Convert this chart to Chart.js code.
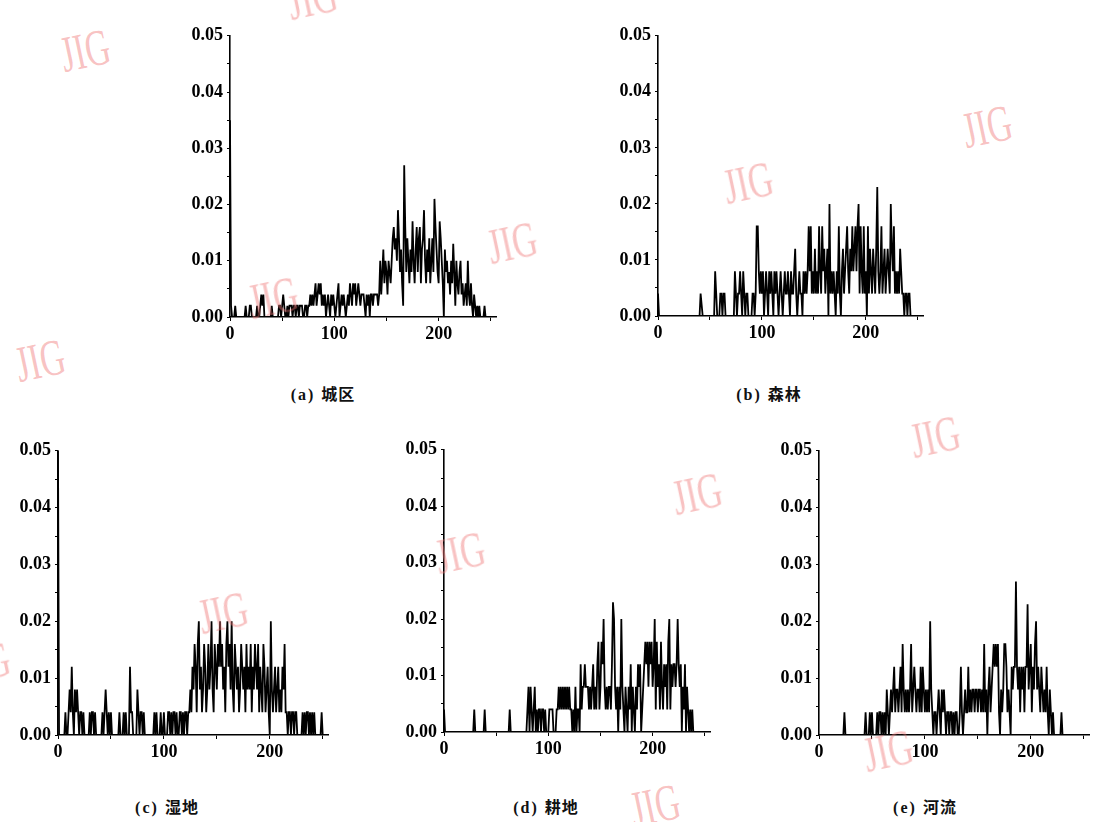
<!DOCTYPE html>
<html lang="zh">
<head>
<meta charset="UTF-8">
<title>灰度直方图</title>
<script src="https://cdn.jsdelivr.net/npm/chart.js"></script>
<style>
  body { margin: 0; background: #fff; }
  .pagina { position: relative; width: 1099px; height: 822px; overflow: hidden; background: #fff; }
  .grafico { position: absolute; }
  .legenda {
    position: absolute; font-family: "Liberation Serif", "Noto Sans CJK SC", serif;
    font-size: 16px; font-weight: bold; color: #111; letter-spacing: 2px;
    transform: translate(-50%, -50%); white-space: nowrap;
  }
  .legenda .cjk { font-family: "Noto Sans CJK SC", sans-serif; letter-spacing: 1px; }
  .marca {
    position: absolute; font-family: "Liberation Serif", serif; font-size: 38px;
    color: rgba(240, 120, 120, 0.45); pointer-events: none; white-space: nowrap;
    transform: translate(-50%, -50%) rotate(-12deg) scale(0.9, 1.35);
  }
</style>
</head>
<body>
<div class="pagina" id="pagina">
  <div class="grafico" style="left:180px; top:21px;"><canvas id="g_a" width="324" height="326"></canvas></div>
  <div class="grafico" style="left:608px; top:21px;"><canvas id="g_b" width="323" height="325"></canvas></div>
  <div class="grafico" style="left:8px; top:436px;"><canvas id="g_c" width="328" height="329"></canvas></div>
  <div class="grafico" style="left:394px; top:435px;"><canvas id="g_d" width="324" height="327"></canvas></div>
  <div class="grafico" style="left:769px; top:436px;"><canvas id="g_e" width="328" height="329"></canvas></div>

  <div class="legenda" style="left:323px; top:393px;">(a) <span class="cjk">城区</span></div>
  <div class="legenda" style="left:769px; top:393px;">(b) <span class="cjk">森林</span></div>
  <div class="legenda" style="left:167px; top:806px;">(c) <span class="cjk">湿地</span></div>
  <div class="legenda" style="left:546px; top:806px;">(d) <span class="cjk">耕地</span></div>
  <div class="legenda" style="left:925px; top:806px;">(e) <span class="cjk">河流</span></div>
</div>

<script>
// niveis de cinza 0..255 (eixo x)
const grayLevels = Array.from({ length: 256 }, (_, i) => i);
const xTicks = [0, 100, 200];
const yTicks = [0.00, 0.01, 0.02, 0.03, 0.04, 0.05];

// (a) 城区
const urbanHist = [
  0.035, 0.002, 0, 0, 0, 0.002, 0, 0, 0, 0, 0, 0, 0, 0, 0, 0.002,
  0, 0, 0, 0.002, 0.002, 0, 0, 0, 0, 0, 0.002, 0, 0, 0.002, 0.004, 0.002,
  0.004, 0, 0, 0, 0, 0, 0, 0, 0.002, 0, 0, 0, 0, 0, 0, 0.002,
  0.002, 0, 0.002, 0.004, 0.002, 0, 0, 0.002, 0, 0.002, 0.002, 0.002, 0, 0.002, 0.002, 0,
  0.002, 0.002, 0, 0.002, 0.002, 0.002, 0, 0, 0.002, 0.002, 0, 0.002, 0.002, 0.004, 0.002, 0.004,
  0.002, 0.004, 0.006, 0.002, 0.004, 0.006, 0.004, 0.006, 0.002, 0.004, 0.002, 0.004, 0, 0.002, 0.004, 0.002,
  0, 0.004, 0.002, 0.004, 0.002, 0, 0.002, 0.004, 0.006, 0, 0.002, 0.004, 0.002, 0.004, 0.002, 0,
  0.002, 0.004, 0.002, 0.006, 0.004, 0.002, 0.006, 0.004, 0.006, 0.002, 0.004, 0.006, 0.004, 0.002, 0.004, 0.004,
  0.004, 0.002, 0, 0.004, 0.002, 0.004, 0, 0.004, 0.004, 0.002, 0.004, 0.004, 0.004, 0.004, 0.002, 0.004,
  0.010, 0.004, 0.008, 0.012, 0.006, 0.010, 0.008, 0.004, 0.010, 0.008, 0.006, 0.010, 0.014, 0.016, 0.012, 0.014,
  0.010, 0.019, 0.014, 0.008, 0.012, 0.006, 0.002, 0.027, 0.016, 0.008, 0.014, 0.010, 0.006, 0.012, 0.008, 0.017,
  0.010, 0.006, 0.012, 0.016, 0.008, 0.014, 0.016, 0.006, 0.012, 0.014, 0.019, 0.010, 0.006, 0.012, 0.008, 0.014,
  0.006, 0.010, 0.014, 0.008, 0.021, 0.016, 0.012, 0.008, 0.006, 0.017, 0.014, 0.010, 0.006, 0, 0.012, 0.008,
  0.010, 0.006, 0.008, 0.004, 0.010, 0.006, 0.013, 0.008, 0.002, 0.010, 0.006, 0.004, 0.008, 0.010, 0.004, 0.006,
  0.002, 0.004, 0.006, 0.002, 0.010, 0.004, 0.002, 0.006, 0.002, 0, 0.004, 0.002, 0, 0.002, 0, 0.002,
  0, 0, 0, 0, 0.002, 0, 0, 0, 0, 0, 0, 0, 0, 0, 0, 0
];

// (b) 森林
const forestHist = [
  0.004, 0, 0, 0, 0, 0, 0, 0, 0, 0, 0, 0, 0, 0, 0, 0,
  0, 0, 0, 0, 0, 0, 0, 0, 0, 0, 0, 0, 0, 0, 0, 0,
  0, 0, 0, 0, 0, 0, 0, 0, 0, 0.004, 0.002, 0, 0, 0, 0, 0,
  0, 0, 0, 0, 0, 0, 0, 0.008, 0.004, 0, 0, 0, 0.004, 0.004, 0, 0.004,
  0.004, 0, 0, 0, 0, 0, 0, 0, 0, 0, 0.008, 0.004, 0, 0.004, 0.004, 0.008,
  0.004, 0, 0.008, 0.004, 0, 0.004, 0.004, 0, 0, 0, 0, 0.004, 0.004, 0, 0.004, 0.016,
  0.016, 0.008, 0.004, 0.008, 0.004, 0.008, 0, 0.004, 0.008, 0.004, 0, 0.008, 0.004, 0.008, 0.004, 0,
  0.008, 0.004, 0.008, 0.004, 0, 0.004, 0.008, 0.004, 0, 0.004, 0.008, 0.004, 0.004, 0.008, 0.004, 0,
  0.008, 0.004, 0.004, 0.008, 0.012, 0.004, 0, 0.004, 0.008, 0.004, 0.004, 0, 0.008, 0.004, 0.008, 0.004,
  0.008, 0.016, 0.008, 0.016, 0.004, 0.008, 0.004, 0.012, 0.004, 0.008, 0.004, 0.016, 0.008, 0.004, 0.016, 0.008,
  0.012, 0.004, 0.008, 0.012, 0, 0.020, 0.004, 0.008, 0.004, 0.008, 0.004, 0, 0.008, 0.004, 0.016, 0.004,
  0, 0.008, 0.012, 0.004, 0.008, 0.012, 0.016, 0.008, 0.004, 0.012, 0.008, 0.016, 0.008, 0.012, 0.016, 0.008,
  0.016, 0.020, 0.004, 0.016, 0.008, 0.004, 0.016, 0.004, 0.008, 0, 0.016, 0.004, 0.012, 0.008, 0.004, 0.012,
  0.008, 0.004, 0.012, 0.023, 0.008, 0.004, 0.008, 0.016, 0.004, 0.008, 0.012, 0.004, 0.008, 0.012, 0.008, 0.004,
  0.020, 0.012, 0.008, 0.016, 0.004, 0.008, 0.004, 0.008, 0.004, 0.012, 0.008, 0.004, 0.004, 0, 0.004, 0.004,
  0, 0.004, 0.004, 0, 0, 0, 0, 0, 0, 0, 0, 0, 0, 0, 0, 0
];

// (c) 湿地
const wetlandHist = [
  0.05, 0, 0, 0, 0, 0, 0, 0.004, 0, 0, 0.004, 0.008, 0.004, 0.012, 0.004, 0,
  0.008, 0.004, 0.008, 0.004, 0, 0.004, 0.004, 0, 0.004, 0, 0, 0, 0, 0, 0.004, 0,
  0.004, 0.004, 0, 0.004, 0, 0, 0, 0, 0, 0, 0.004, 0, 0.004, 0.008, 0.004, 0,
  0.004, 0, 0.004, 0, 0, 0, 0, 0, 0, 0, 0.004, 0, 0, 0, 0.004, 0,
  0.004, 0, 0, 0, 0.012, 0.004, 0.004, 0, 0, 0, 0, 0.008, 0.004, 0, 0.004, 0.004,
  0, 0.004, 0, 0, 0, 0, 0, 0, 0, 0, 0, 0.004, 0, 0.004, 0, 0,
  0, 0.004, 0, 0, 0.004, 0, 0, 0, 0.004, 0.004, 0, 0.004, 0, 0.004, 0.004, 0,
  0.004, 0, 0, 0.004, 0.004, 0, 0.004, 0, 0.004, 0.004, 0, 0.004, 0.004, 0.008, 0.004, 0.012,
  0.008, 0.016, 0.012, 0.004, 0.016, 0.020, 0.008, 0.012, 0.004, 0.008, 0.016, 0.012, 0.004, 0.008, 0.016, 0.008,
  0.012, 0.020, 0.008, 0.004, 0.016, 0.012, 0.008, 0.016, 0.012, 0.020, 0.012, 0.016, 0.008, 0.012, 0.004, 0.016,
  0.020, 0.012, 0.016, 0.008, 0.020, 0.008, 0.004, 0.016, 0.012, 0.008, 0.012, 0.004, 0.008, 0.016, 0.012, 0.008,
  0.012, 0.004, 0.016, 0.008, 0.012, 0.008, 0.016, 0.004, 0.012, 0.008, 0.016, 0.012, 0.008, 0.016, 0.004, 0.012,
  0.008, 0.004, 0.016, 0.012, 0.004, 0.008, 0.012, 0.004, 0, 0.020, 0.008, 0.004, 0.008, 0.012, 0.004, 0.008,
  0.012, 0.004, 0.008, 0.004, 0.012, 0.008, 0.016, 0.004, 0.004, 0, 0.004, 0.004, 0, 0.004, 0.004, 0,
  0.004, 0.004, 0, 0, 0, 0, 0, 0.004, 0, 0.004, 0, 0.004, 0.004, 0, 0.004, 0,
  0.004, 0, 0.004, 0, 0, 0, 0, 0, 0, 0.004, 0, 0, 0, 0, 0, 0
];

// (d) 耕地
const farmlandHist = [
  0.004, 0, 0, 0, 0, 0, 0, 0, 0, 0, 0, 0, 0, 0, 0, 0,
  0, 0, 0, 0, 0, 0, 0, 0, 0, 0, 0, 0, 0, 0.004, 0, 0,
  0, 0, 0, 0, 0, 0, 0, 0.004, 0, 0, 0, 0, 0, 0, 0, 0,
  0, 0, 0, 0, 0, 0, 0, 0, 0, 0, 0, 0, 0, 0, 0, 0.004,
  0, 0, 0, 0, 0, 0, 0, 0, 0, 0, 0, 0, 0, 0, 0, 0,
  0.004, 0.008, 0, 0.008, 0.004, 0, 0.004, 0.008, 0, 0.004, 0, 0.004, 0.004, 0, 0.004, 0.004,
  0, 0.004, 0, 0, 0, 0.004, 0.004, 0.004, 0.004, 0, 0, 0, 0.004, 0.004, 0.008, 0.004,
  0.008, 0.004, 0.008, 0.004, 0.008, 0.004, 0.008, 0.004, 0.008, 0.004, 0.004, 0, 0.004, 0, 0.008, 0,
  0.004, 0.004, 0, 0.012, 0.004, 0.008, 0.008, 0.012, 0.008, 0.008, 0.008, 0.004, 0.008, 0.004, 0.008, 0.012,
  0.004, 0.008, 0.004, 0.012, 0.016, 0.004, 0.008, 0.016, 0.012, 0.020, 0.008, 0.004, 0.008, 0.004, 0.008, 0.008,
  0.004, 0.012, 0.023, 0.020, 0.008, 0.004, 0.008, 0, 0.008, 0.004, 0.020, 0.008, 0.004, 0, 0.008, 0.004,
  0, 0.008, 0.004, 0.012, 0, 0.008, 0.004, 0, 0.008, 0.004, 0.012, 0.008, 0.012, 0, 0.004, 0.008,
  0.012, 0.016, 0.012, 0.016, 0.008, 0.016, 0.012, 0.016, 0.008, 0.012, 0.020, 0.004, 0.016, 0.008, 0.012, 0.004,
  0.016, 0.008, 0.004, 0.012, 0.008, 0.012, 0.004, 0.016, 0.020, 0.004, 0.012, 0.008, 0.012, 0.012, 0.008, 0.012,
  0.020, 0.012, 0.008, 0.012, 0, 0.008, 0.004, 0.012, 0, 0.008, 0.004, 0, 0.004, 0, 0.004, 0,
  0, 0, 0, 0, 0, 0, 0, 0, 0, 0, 0, 0, 0, 0, 0, 0
];

// (e) 河流
const riverHist = [
  0, 0, 0, 0, 0, 0, 0, 0, 0, 0, 0, 0, 0, 0, 0, 0,
  0, 0, 0, 0, 0, 0, 0, 0, 0.004, 0, 0, 0, 0, 0, 0, 0,
  0, 0, 0, 0, 0, 0, 0, 0, 0, 0, 0, 0, 0.004, 0, 0, 0,
  0.004, 0, 0.004, 0, 0, 0, 0, 0.004, 0, 0.004, 0.004, 0, 0.004, 0, 0.004, 0,
  0.008, 0.004, 0, 0.004, 0.008, 0.004, 0.008, 0.012, 0.004, 0.008, 0.008, 0.004, 0.008, 0.012, 0.004, 0.016,
  0.008, 0.004, 0.008, 0.004, 0.008, 0.004, 0.008, 0.016, 0.004, 0.008, 0.012, 0.008, 0.004, 0.008, 0.008, 0.004,
  0.012, 0.004, 0.012, 0.008, 0.004, 0.008, 0.004, 0.008, 0.004, 0.020, 0.008, 0.004, 0, 0.004, 0.004, 0,
  0.004, 0.008, 0.004, 0, 0.008, 0.004, 0.008, 0.004, 0, 0.004, 0.004, 0, 0.004, 0.004, 0, 0.004,
  0, 0.004, 0.004, 0, 0, 0.004, 0.012, 0.004, 0, 0.004, 0.008, 0.004, 0.004, 0.012, 0.004, 0.008,
  0.004, 0.008, 0.008, 0.004, 0.008, 0.008, 0.004, 0.008, 0.008, 0.004, 0.008, 0.004, 0.016, 0.004, 0.008, 0,
  0.008, 0.012, 0.004, 0.008, 0.012, 0.016, 0.012, 0.016, 0.012, 0.016, 0.004, 0, 0.008, 0.004, 0.008, 0.016,
  0.016, 0.012, 0.004, 0.008, 0.004, 0, 0.012, 0.008, 0.012, 0.012, 0.027, 0.012, 0.008, 0.012, 0.004, 0.012,
  0.008, 0.012, 0.004, 0.012, 0.012, 0.023, 0.008, 0.012, 0.016, 0.004, 0.012, 0.008, 0.016, 0.020, 0.008, 0.012,
  0.008, 0.004, 0.012, 0.008, 0.004, 0.008, 0.004, 0.012, 0.004, 0, 0.008, 0.004, 0, 0.004, 0, 0,
  0, 0, 0, 0, 0, 0.004, 0, 0, 0, 0, 0, 0, 0, 0, 0, 0,
  0, 0, 0, 0, 0, 0, 0, 0, 0, 0, 0, 0, 0, 0, 0, 0
];

// marcas d'agua "JIG" (centro x, y)
const marcasX = [85, 312, 512, 748, 987, 40, 273, 223, 460, 697, 935, -15, 655, 888];
const marcasY = [50, -2, 242, 182, 126, 360, 297, 612, 552, 493, 436, 662, 805, 750];

Chart.defaults.font.family = "'Liberation Serif', 'Times New Roman', serif";
Chart.defaults.font.size = 18;
Chart.defaults.font.weight = 'bold';
Chart.defaults.color = '#000';

function criarGrafico(id, valores) {
  var pontos = valores.map((v, i) => ({ x: grayLevels[i], y: v }));
  return new Chart(document.getElementById(id), {
    type: 'line',
    data: {
      datasets: [{
        data: pontos,
        borderColor: '#000',
        borderWidth: 1.8,
        pointRadius: 0,
        tension: 0,
        fill: false
      }]
    },
    options: {
      responsive: false,
      animation: false,
      layout: { padding: { top: 12, right: 8, left: 0, bottom: 0 } },
      plugins: { legend: { display: false }, tooltip: { enabled: false } },
      scales: {
        x: {
          type: 'linear', min: 0, max: 255,
          afterFit: (s) => { s.height = 30; },
          ticks: {
            stepSize: 50, includeBounds: false, padding: 3, maxRotation: 0, autoSkip: false,
            callback: (v) => xTicks.includes(v) ? String(v) : ''
          },
          grid: { drawOnChartArea: false, drawTicks: true, tickLength: 4, color: '#000', lineWidth: 1 },
          border: { display: true, color: '#000', width: 1.6 }
        },
        y: {
          min: 0, max: 0.05,
          afterFit: (s) => { s.width = 50; },
          ticks: {
            stepSize: 0.005, padding: 4, autoSkip: false,
            callback: function (v) {
              var r = Math.round(v * 1000) / 1000;
              return yTicks.some(t => Math.abs(t - r) < 1e-6) ? r.toFixed(2) : '';
            }
          },
          grid: { drawOnChartArea: false, drawTicks: true, tickLength: 3, color: '#000', lineWidth: 1 },
          border: { display: true, color: '#000', width: 1.6 }
        }
      }
    }
  });
}

criarGrafico('g_a', urbanHist);
criarGrafico('g_b', forestHist);
criarGrafico('g_c', wetlandHist);
criarGrafico('g_d', farmlandHist);
criarGrafico('g_e', riverHist);

var pagina = document.getElementById('pagina');
for (var i = 0; i < marcasX.length; i++) {
  var m = document.createElement('div');
  m.className = 'marca';
  m.textContent = 'JIG';
  m.style.left = marcasX[i] + 'px';
  m.style.top = marcasY[i] + 'px';
  pagina.appendChild(m);
}
</script>
</body>
</html>
